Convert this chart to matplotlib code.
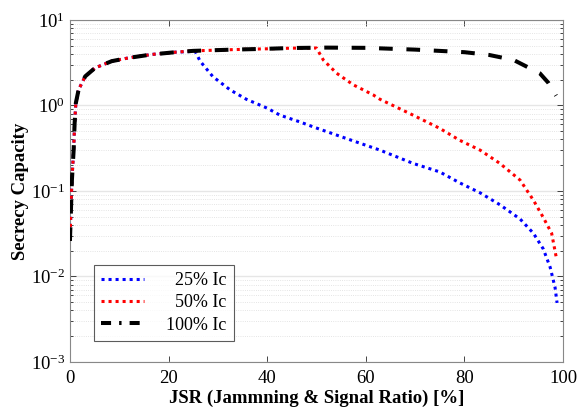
import numpy as np
import matplotlib
matplotlib.use("Agg")
import matplotlib.pyplot as plt
from matplotlib.lines import Line2D

plt.rcParams['font.family'] = ['Liberation Serif', 'DejaVu Serif']
plt.rcParams['mathtext.fontset'] = 'stix'

# JSR [%] and secrecy capacity
jsr_common = [0, 0.4, 0.75, 0.95, 1.2, 1.76, 3.1, 5.1, 8.5, 11.9, 16.6, 21.4, 25.0]
cap_common = [0.026, 0.134, 0.30, 0.62, 1.07, 1.53, 2.19, 2.75, 3.3, 3.6, 3.95, 4.2, 4.35]

jsr_25 = [25.4, 26.4, 29.0, 32.5, 35.8, 40.0, 42.6, 46.7, 49.4, 56.1, 62.9,
          69.6, 75.0, 79.1, 83.2, 87.2, 91.3, 94.0, 96.0, 97.4, 98.4, 98.8]
cap_25 = [4.3, 3.3, 2.17, 1.52, 1.18, 0.93, 0.77, 0.64, 0.56, 0.41, 0.30,
          0.21, 0.167, 0.124, 0.095, 0.069, 0.047, 0.032, 0.021, 0.0128, 0.0074, 0.0049]

jsr_50 = [33.1, 39.9, 45.0, 50.0, 51.4, 54.1, 57.5, 61.5, 62.9, 69.6, 75.0,
          79.1, 83.2, 87.2, 91.3, 94.0, 96.0, 97.7, 98.7]
cap_50 = [4.5, 4.6, 4.68, 4.7, 3.4, 2.38, 1.74, 1.33, 1.18, 0.77, 0.54,
          0.39, 0.30, 0.21, 0.134, 0.078, 0.049, 0.032, 0.016]

jsr_100 = [33.1, 39.9, 45.0, 52.0, 60.0, 70.0, 80.0, 85.0, 90.0, 95.3, 97.0, 98.6]
cap_100 = [4.5, 4.6, 4.7, 4.75, 4.72, 4.5, 4.2, 3.9, 3.4, 2.38, 1.85, 1.3]

x_ticks = [0, 20, 40, 60, 80, 100]
labels = ['25% Ic', '50% Ic', '100% Ic']

fig = plt.figure(figsize=(5.78, 4.16), dpi=100)
ax = fig.add_axes([0.121, 0.130, 0.853, 0.822])

x25 = jsr_common[:-1] + jsr_25
y25 = cap_common[:-1] + cap_25
x50 = jsr_common + jsr_50
y50 = cap_common + cap_50
x100 = jsr_common + jsr_100
y100 = cap_common + cap_100

ax.plot(x25, y25, color='blue', lw=2.2, linestyle=(0, (1, 1.3)),
        dash_capstyle='butt', zorder=3)
ax.plot(x50, y50, color='red', lw=2.2, linestyle=(0, (1, 1.3)),
        dash_capstyle='butt', zorder=4)
ax.plot(x100, y100, color='black', lw=2.9, linestyle=(0, (3.4, 3.4)),
        dash_capstyle='butt', zorder=5)

ax.set_yscale('log')
ax.set_xlim(0, 100)
ax.set_ylim(1e-3, 1e1)
ax.set_xticks(x_ticks)
ax.tick_params(which='both', direction='in', top=True, right=True,
               labelsize=13.5, colors='#262626', width=0.6)
ax.tick_params(which='major', length=4)
ax.tick_params(which='minor', length=2)
for lab in ax.get_xticklabels() + ax.get_yticklabels():
    lab.set_color('black')
ax.tick_params(axis='x', pad=6)
ax.grid(True, which='major', axis='y', color='#e6e6e6', lw=1.0, linestyle='-')
ax.grid(True, which='minor', axis='y', color='#dcdcdc', lw=0.6, linestyle=':')
ax.set_axisbelow(True)
for sp in ax.spines.values():
    sp.set_color('#888888')
    sp.set_linewidth(0.8)

ax.set_xlabel('JSR (Jammning & Signal Ratio) [%]', fontsize=13.5,
              fontweight='bold', labelpad=2)
ax.set_ylabel('Secrecy Capacity', fontsize=13.5, fontweight='bold', labelpad=1)

handles = [
    Line2D([], [], color='blue', lw=2.2, linestyle=(0, (1, 1.3)), dash_capstyle='butt'),
    Line2D([], [], color='red', lw=2.2, linestyle=(0, (1, 1.3)), dash_capstyle='butt'),
    Line2D([], [], color='black', lw=2.9, linestyle=(0, (2.5, 2.0, 0.6, 2.0)),
           dash_capstyle='butt'),
]
leg = ax.legend(handles, ['  ' + labels[0], '  ' + labels[1], labels[2]],
                loc='lower left', bbox_to_anchor=(0.03, 0.035), fontsize=13,
                frameon=True, fancybox=False, edgecolor='#333333',
                handlelength=2.4, handletextpad=1.2, borderpad=0.4,
                labelspacing=0.3)
leg.get_frame().set_linewidth(0.8)

fig.savefig('out.png', dpi=100, facecolor='white')
